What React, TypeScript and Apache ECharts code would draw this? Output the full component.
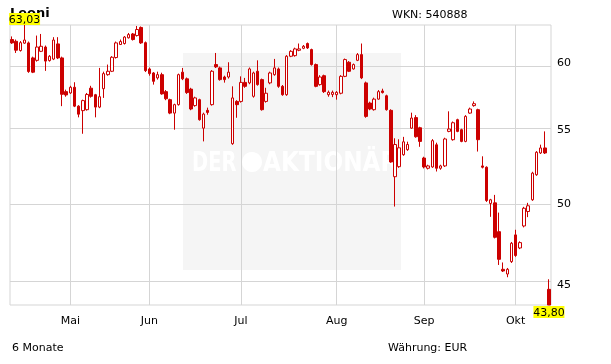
import React, { useEffect, useRef } from "react";
import * as echarts from "echarts";

// Daily candles (EUR), oldest first
const opens = [
  61.85, 61.71, 60.97, 61.56, 61.58, 60.39, 60.2, 60.91, 61.25, 60.18,
  60.3, 61.5, 60.39, 57.8, 57.7, 58.13, 56.72, 56.39, 56.46, 58.06,
  57.57, 56.65, 58.02, 59.09, 59.35, 60.42, 61.45, 61.53, 61.99, 62.3,
  62.17, 62.83, 61.6, 59.53, 59.22, 58.84, 59.09, 57.8, 57.2, 56.21,
  56.83, 59.28, 58.77, 57.99, 56.76, 57.2, 55.12, 56.41, 56.83, 59.87,
  59.61, 58.91, 58.91, 54.02, 57.07, 57.07, 58.5, 58.46, 57.45, 59.35,
  58.71, 57.07, 58.46, 59.09, 59.53, 58.2, 57.57, 60.52, 60.57, 60.99,
  61.15, 61.53, 61.05, 59.87, 58.33, 59.01, 57.57, 57.59, 57.57, 57.68,
  58.96, 60.05, 59.53, 60.2, 60.65, 58.46, 56.95, 56.46, 57.24, 57.85,
  57.49, 56.41, 51.75, 52.43, 53.25, 53.6, 55.12, 55.88, 55.15, 53.02,
  52.32, 52.41, 53.94, 52.32, 52.48, 54.89, 54.3, 55.73, 55.01, 54.18,
  56.21, 56.76, 56.46, 52.48, 52.39, 49.98, 50.02, 48.18, 45.88, 45.6,
  46.34, 47.98, 47.17, 48.54, 49.46, 50.22, 51.88, 53.37, 53.72, 44.7,
];
const closes = [
  61.58, 61.0, 61.6, 61.81, 59.33, 59.28, 61.25, 61.31, 60.14, 60.52,
  61.81, 60.39, 57.6, 57.55, 58.13, 56.72, 56.13, 57.13, 57.59, 57.45,
  56.65, 57.42, 59.17, 59.35, 60.44, 61.58, 61.69, 62.05, 62.25, 61.85,
  62.66, 61.58, 59.4, 59.17, 58.58, 59.09, 57.63, 57.27, 56.21, 56.83,
  59.09, 58.77, 57.73, 56.51, 57.33, 55.73, 56.14, 56.26, 59.35, 59.69,
  58.71, 58.71, 59.28, 57.33, 56.83, 58.5, 58.2, 59.53, 59.22, 58.33,
  56.46, 57.68, 59.22, 59.61, 58.2, 57.57, 60.52, 60.91, 61.1, 61.1,
  61.31, 61.18, 59.87, 58.2, 58.91, 57.8, 57.75, 57.75, 57.75, 58.96,
  60.26, 59.35, 59.87, 60.65, 58.84, 55.97, 56.51, 57.24, 57.8, 57.73,
  56.46, 52.75, 53.96, 53.73, 54.15, 53.96, 55.85, 54.51, 54.18, 52.41,
  52.48, 54.23, 52.32, 52.48, 54.35, 55.06, 55.51, 54.89, 54.18, 55.97,
  56.51, 56.9, 54.3, 52.39, 50.17, 50.22, 47.83, 46.48, 45.78, 45.88,
  47.46, 46.71, 47.5, 49.67, 49.83, 51.99, 53.42, 53.72, 53.37, 43.8,
];
const lows = [
  61.5, 60.78, 60.89, 61.5, 59.23, 59.21, 60.1, 60.85, 59.38, 60.1,
  60.22, 60.3, 56.72, 57.42, 57.63, 56.65, 55.9, 54.72, 56.39, 57.35,
  55.9, 56.57, 57.33, 59.01, 59.29, 60.34, 61.41, 61.45, 61.93, 61.77,
  62.09, 61.5, 59.29, 59.01, 58.33, 58.71, 57.57, 57.16, 56.13, 55.01,
  56.76, 58.67, 57.63, 56.42, 56.68, 55.66, 54.18, 56.09, 56.76, 59.6,
  58.63, 58.48, 58.79, 53.94, 55.87, 56.98, 58.09, 58.36, 57.35, 58.25,
  56.39, 56.98, 58.36, 59.01, 58.09, 57.49, 57.49, 60.45, 60.49, 60.92,
  61.08, 61.1, 59.79, 58.13, 58.25, 57.7, 57.42, 57.39, 57.2, 57.6,
  58.9, 59.29, 59.48, 60.14, 58.75, 55.87, 56.42, 56.39, 57.2, 57.66,
  56.39, 52.7, 49.78, 52.35, 53.18, 53.52, 55.07, 54.44, 53.8, 52.31,
  52.24, 52.35, 52.1, 52.22, 52.41, 54.83, 54.23, 54.83, 54.12, 54.12,
  56.16, 56.68, 53.47, 52.31, 50.08, 49.12, 47.76, 46.14, 45.72, 45.41,
  46.26, 46.63, 47.1, 48.45, 49.1, 50.15, 51.81, 53.3, 53.3, 43.8,
];
const highs = [
  62.1, 61.85, 61.73, 63.03, 61.69, 60.49, 62.17, 62.3, 61.37, 60.61,
  62.04, 62.04, 60.49, 57.95, 58.24, 58.51, 56.79, 57.2, 57.7, 58.24,
  57.63, 59.61, 59.32, 59.87, 60.53, 61.69, 61.85, 62.13, 62.38, 62.38,
  62.95, 62.91, 61.69, 59.64, 59.29, 59.32, 59.24, 57.92, 57.27, 56.9,
  59.17, 59.61, 58.87, 58.09, 57.42, 57.27, 56.24, 56.61, 59.44, 60.78,
  59.71, 59.01, 60.05, 58.2, 57.16, 58.96, 58.84, 59.64, 59.32, 60.2,
  58.79, 58.09, 59.32, 60.31, 59.64, 58.3, 60.61, 61.0, 61.2, 61.53,
  61.41, 61.61, 61.12, 59.95, 59.05, 59.09, 57.88, 57.88, 57.84, 59.05,
  60.34, 60.14, 59.95, 60.77, 61.53, 58.56, 57.05, 57.35, 57.92, 58.02,
  57.57, 56.49, 54.4, 54.33, 54.5, 54.16, 56.24, 56.06, 55.22, 53.11,
  52.56, 54.34, 54.09, 52.56, 54.44, 56.34, 55.6, 55.8, 55.08, 56.06,
  56.61, 57.07, 56.53, 53.14, 52.45, 50.28, 50.54, 49.39, 46.29, 45.96,
  47.54, 48.3, 47.58, 49.76, 50.02, 52.08, 53.5, 53.95, 54.89, 45.29,
];

const monthLabels = ["Mai", "Jun", "Jul", "Aug", "Sep", "Okt"];
const monthStartIndex = [14, 33, 55, 78, 99, 121];
const priceTicks = [45, 50, 55, 60];

const titleText = "Leoni";
const wknText = "WKN: 540888";
const periodText = "6 Monate";
const currencyText = "Währung: EUR";

export default function App() {
  const ref = useRef<HTMLDivElement>(null);

  useEffect(() => {
    if (!ref.current) return;
    const chart = echarts.init(ref.current, null, { renderer: "svg" });
    const font = "DejaVu Sans";
    const gridColor = "#d5d5d5";
    const red = "#cc0000";

    const cats = opens.map((_, i) => String(i));
    const data = opens.map((o, i) => [
      Math.log(o),
      Math.log(closes[i]),
      Math.log(lows[i]),
      Math.log(highs[i]),
    ]);
    let maxI = 0;
    let minI = 0;
    highs.forEach((h, i) => {
      if (h > highs[maxI]) maxI = i;
    });
    lows.forEach((l, i) => {
      if (l < lows[minI]) minI = i;
    });
    const fmt = (v: number) => v.toFixed(2).replace(".", ",");
    const tickVals = priceTicks.map((p) => Math.log(p));

    chart.setOption({
      animation: false,
      textStyle: { fontFamily: font },
      grid: {
        left: 10,
        right: 60,
        top: 25,
        bottom: 59,
        show: true,
        borderColor: gridColor,
        borderWidth: 1,
      },
      xAxis: {
        type: "category",
        data: cats,
        boundaryGap: true,
        axisLine: { show: false },
        axisTick: { show: false },
        splitLine: { show: false },
        axisLabel: {
          interval: (i: number) => monthStartIndex.includes(i),
          formatter: (_v: string, i: number) => {
            const k = monthStartIndex.indexOf(i);
            return k >= 0 ? monthLabels[k] : "";
          },
          color: "#000",
          fontSize: 11,
          margin: 10,
          fontFamily: font,
        },
      },
      yAxis: {
        type: "value",
        position: "right",
        min: Math.log(lows[minI]),
        max: Math.log(highs[maxI]),
        axisLine: { show: false },
        axisTick: { show: false, customValues: tickVals },
        axisLabel: {
          customValues: tickVals,
          formatter: (v: number) => String(Math.round(Math.exp(v))),
          color: "#000",
          fontSize: 11,
          margin: 6,
          fontFamily: font,
        },
        splitLine: { show: false },
      },
      series: [
        {
          type: "candlestick",
          data,
          barWidth: 3,
          z: 3,
          itemStyle: {
            color: "#ffffff",
            color0: red,
            borderColor: red,
            borderColor0: red,
            borderWidth: 1,
          },
          markLine: {
            silent: true,
            z: 1,
            symbol: ["none", "none"],
            label: { show: false },
            lineStyle: { color: gridColor, width: 1, type: "solid" },
            emphasis: { disabled: true },
            data: [
              ...monthStartIndex.map((i) => ({ xAxis: i })),
              ...tickVals.map((v) => ({ yAxis: v })),
            ],
          },
          markPoint: {
            silent: true,
            z: 6,
            symbol: "rect",
            symbolSize: [31, 12],
            itemStyle: { color: "#ffff00" },
            label: {
              show: true,
              position: "inside",
              formatter: "{c}",
              color: "#000",
              fontSize: 11,
              fontFamily: font,
            },
            data: [
              {
                coord: [maxI, Math.log(highs[maxI])],
                value: fmt(highs[maxI]),
                symbolOffset: [0, -6],
              },
              {
                coord: [minI, Math.log(lows[minI])],
                value: fmt(lows[minI]),
                symbolOffset: [0, 7],
              },
            ],
          },
        },
      ],
      graphic: [
        {
          type: "rect",
          z: -10,
          silent: true,
          shape: { x: 183, y: 53, width: 218, height: 217 },
          style: { fill: "#f5f5f5" },
        },
        {
          type: "text",
          z: -9,
          silent: true,
          x: 192,
          y: 162,
          scaleX: 0.72,
          style: {
            text: "DER",
            fill: "#ffffff",
            font: `bold 27px "${font}"`,
            verticalAlign: "middle",
          },
        },
        {
          type: "circle",
          z: -9,
          silent: true,
          shape: { cx: 252, cy: 162, r: 10 },
          style: { fill: "#ffffff" },
        },
        {
          type: "text",
          z: -9,
          silent: true,
          x: 263,
          y: 162,
          scaleX: 0.86,
          style: {
            text: "AKTIONÄR",
            fill: "#ffffff",
            font: `bold 27px "${font}"`,
            verticalAlign: "middle",
          },
        },
        {
          type: "text",
          z: 1,
          x: 10,
          y: 12,
          style: {
            text: titleText,
            fill: "#000",
            font: `bold 13px "${font}"`,
            verticalAlign: "middle",
          },
        },
        {
          type: "text",
          x: 392,
          y: 14,
          style: {
            text: wknText,
            fill: "#000",
            font: `11px "${font}"`,
            verticalAlign: "middle",
          },
        },
        {
          type: "text",
          x: 12,
          y: 347,
          style: {
            text: periodText,
            fill: "#000",
            font: `11px "${font}"`,
            verticalAlign: "middle",
          },
        },
        {
          type: "text",
          x: 388,
          y: 347,
          style: {
            text: currencyText,
            fill: "#000",
            font: `11px "${font}"`,
            verticalAlign: "middle",
          },
        },
      ],
    });

    return () => chart.dispose();
  }, []);

  return (
    <div
      ref={ref}
      style={{ position: "fixed", left: 0, top: 0, width: 611, height: 364 }}
    />
  );
}
